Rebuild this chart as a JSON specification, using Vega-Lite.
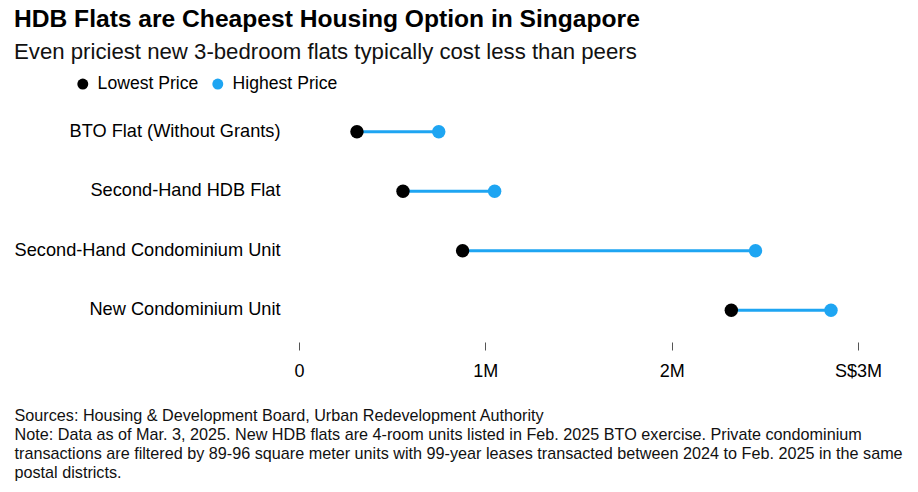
{
  "$schema": "https://vega.github.io/schema/vega-lite/v6.json",
  "width": 559,
  "height": 238,
  "autosize": {"type": "none"},
  "padding": {"left": 299, "top": 102, "right": 60, "bottom": 152},
  "background": "white",
  "config": {
    "font": "Liberation Sans",
    "view": {"stroke": null}
  },
  "title": {
    "text": "HDB Flats are Cheapest Housing Option in Singapore",
    "subtitle": "Even priciest new 3-bedroom flats typically cost less than peers",
    "anchor": "start",
    "frame": "bounds",
    "fontSize": 24.6,
    "fontWeight": "bold",
    "color": "#000000",
    "subtitleFontSize": 22.2,
    "subtitleColor": "#111111",
    "subtitlePadding": 8,
    "offset": 11
  },
  "data": {
    "values": [
      {"category": "BTO Flat (Without Grants)", "type": "Lowest Price", "value": 311000},
      {"category": "BTO Flat (Without Grants)", "type": "Highest Price", "value": 750000},
      {"category": "Second-Hand HDB Flat", "type": "Lowest Price", "value": 558000},
      {"category": "Second-Hand HDB Flat", "type": "Highest Price", "value": 1050000},
      {"category": "Second-Hand Condominium Unit", "type": "Lowest Price", "value": 878000},
      {"category": "Second-Hand Condominium Unit", "type": "Highest Price", "value": 2450000},
      {"category": "New Condominium Unit", "type": "Lowest Price", "value": 2320000},
      {"category": "New Condominium Unit", "type": "Highest Price", "value": 2855000}
    ]
  },
  "encoding": {
    "y": {
      "field": "category",
      "type": "nominal",
      "sort": ["BTO Flat (Without Grants)", "Second-Hand HDB Flat", "Second-Hand Condominium Unit", "New Condominium Unit"],
      "axis": {
        "title": null,
        "domain": false,
        "ticks": false,
        "labelFontSize": 18.2,
        "labelColor": "#000000",
        "labelPadding": 19,
        "labelLimit": 400
      }
    }
  },
  "layer": [
    {
      "mark": {"type": "rule", "color": "#1EA5F2", "strokeWidth": 3},
      "encoding": {
        "x": {"aggregate": "min", "field": "value", "type": "quantitative"},
        "x2": {"aggregate": "max", "field": "value"}
      }
    },
    {
      "mark": {"type": "point", "filled": true, "opacity": 1, "size": 180, "shape": "circle"},
      "encoding": {
        "x": {
          "field": "value",
          "type": "quantitative",
          "scale": {"domain": [0, 3000000], "nice": false},
          "axis": {
            "values": [0, 1000000, 2000000, 3000000],
            "labelExpr": "datum.value == 3000000 ? 'S$3M' : datum.value == 0 ? '0' : (datum.value / 1000000) + 'M'",
            "grid": false,
            "domain": false,
            "tickSize": 8,
            "tickColor": "#555555",
            "tickWidth": 1,
            "offset": 2,
            "labelFontSize": 18,
            "labelColor": "#000000",
            "labelPadding": 12,
            "labelFlush": false,
            "title": [
              "Sources: Housing & Development Board, Urban Redevelopment Authority",
              "Note: Data as of Mar. 3, 2025. New HDB flats are 4-room units listed in Feb. 2025 BTO exercise. Private condominium",
              "transactions are filtered by 89-96 square meter units with 99-year leases transacted between 2024 to Feb. 2025 in the same",
              "postal districts."
            ],
            "titleFontSize": 16.2,
            "titleFontWeight": "normal",
            "titleColor": "#111111",
            "titleAnchor": "start",
            "titleAlign": "left",
            "titleBaseline": "top",
            "titleX": -285,
            "titleY": 65.5,
            "titleLineHeight": 19
          }
        },
        "color": {
          "field": "type",
          "type": "nominal",
          "scale": {"domain": ["Lowest Price", "Highest Price"], "range": ["#000000", "#1EA5F2"]},
          "legend": {
            "title": null,
            "orient": "none",
            "direction": "horizontal",
            "legendX": -225,
            "legendY": -27,
            "symbolType": "circle",
            "symbolSize": 120,
            "labelFontSize": 17.6,
            "labelColor": "#000000",
            "labelOffset": 6,
            "columnPadding": 10
          }
        }
      }
    }
  ]
}
